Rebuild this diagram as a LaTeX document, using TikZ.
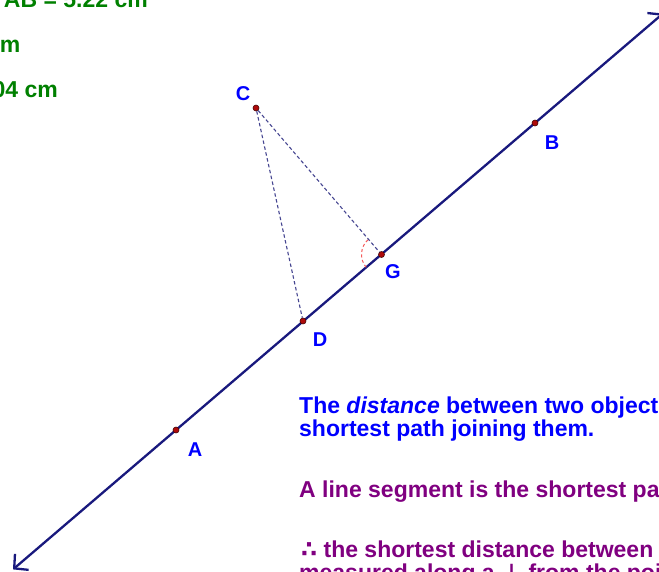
\documentclass[tikz,border=0pt]{standalone}
\usepackage{fontspec}
\setmainfont{Liberation Sans}
\newfontfamily\symfont{DejaVu Sans}
\usetikzlibrary{arrows.meta}
\definecolor{lineblue}{RGB}{25,25,125}
\definecolor{dashblue}{RGB}{70,70,145}
\definecolor{ptred}{RGB}{175,10,10}
\definecolor{angred}{RGB}{245,90,90}
\definecolor{txtgreen}{RGB}{0,128,0}
\definecolor{txtblue}{RGB}{0,0,255}
\definecolor{txtpurple}{RGB}{128,0,128}
\tikzset{
  ptdot/.style={circle,fill=ptred,draw=black!60!ptred,line width=0.6pt,inner sep=0,minimum size=6pt},
  ptlabel/.style={font=\fontsize{20}{20}\selectfont\bfseries,text=txtblue,inner sep=0},
  note/.style={font=\fontsize{23}{23}\selectfont\bfseries,anchor=base west,inner sep=0},
  measure/.style={font=\fontsize{23}{23}\selectfont\bfseries,text=txtgreen,anchor=base east,inner sep=0},
  axisline/.style={draw=lineblue,line width=2.3pt,{Straight Barb[length=10pt,width=21pt]}-{Straight Barb[length=10pt,width=21pt]}},
  guide/.style={draw=dashblue,line width=1.1pt,dash pattern=on 3.5pt off 2.5pt}
}

\begin{document}
\begin{tikzpicture}[x=1pt,y=-1pt]
\useasboundingbox (0,0) rectangle (659,571);
\clip (0,0) rectangle (659,571);
% ---------- line AB through D and G ----------
\coordinate (endL) at (13,569.4);
\coordinate (endR) at (663,13.5);
\draw[axisline] (endL) -- (endR);
% ---------- angle at the foot G ----------
\draw[angred,line width=1pt,dash pattern=on 3pt off 2.5pt] (381.5,254.5) ++(-220:20) arc[start angle=-220,end angle=-130,radius=20];
% ---------- points ----------
\node[ptdot] (A) at (176,430) {};
\node[ptdot] (B) at (535,123) {};
\node[ptdot] (C) at (256,108) {};
\node[ptdot] (D) at (303,321) {};
\node[ptdot] (G) at (381.5,254.5) {};
\draw[guide] (C) -- (D);
\draw[guide] (C) -- (G);
\node[ptlabel] (labA) at (195,450) {A};
\node[ptlabel] (labB) at (552,143) {B};
\node[ptlabel] (labC) at (243,94) {C};
\node[ptlabel] (labD) at (320,340) {D};
\node[ptlabel] (labG) at (393,272) {G};
% ---------- measurements ----------
\node[measure] (mAB) at (148,7) {AB = 5.22 cm};
\node[measure] (mCD) at (20.5,52) {m};
\node[measure] (mCG) at (58,97) {04 cm};
% ---------- notes ----------
\node[note,text=txtblue] (def1) at (299,413) {The \textit{distance} between two object};
\node[note,text=txtblue] (def2) at (299,436) {shortest path joining them.};
\node[note,text=txtpurple] (seg) at (299,497) {A line segment is the shortest pa};
\node[note,text=txtpurple] (conc1) at (301,557) {{\symfont ∴} the shortest distance between};
\node[note,text=txtpurple] (conc2) at (299,580) {measured along a {\symfont ⊥} from the poi};
\end{tikzpicture}
\end{document}
